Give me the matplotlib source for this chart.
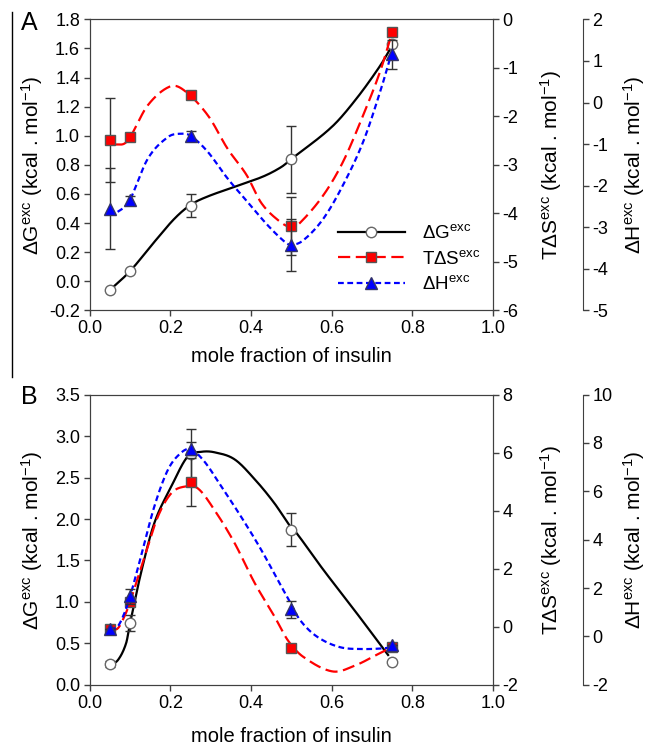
import numpy as np
import matplotlib.pyplot as plt
from matplotlib.lines import Line2D

plt.rcParams['font.family'] = ['Liberation Sans', 'DejaVu Sans']
plt.rcParams['mathtext.fontset'] = 'custom'
plt.rcParams['mathtext.rm'] = 'Liberation Sans'
plt.rcParams['mathtext.it'] = 'Liberation Sans'
plt.rcParams['axes.unicode_minus'] = False

# mole fraction of insulin
x = [0.05, 0.1, 0.25, 0.5, 0.75]

# panel A points (each series in its own axis units)
a_dg = [-0.06, 0.07, 0.52, 0.84, 1.63]
a_dg_err = [0, 0, 0.08, 0.23, 0]
a_tds = [-2.49, -2.43, -1.56, -4.26, -0.27]
a_tds_err = [0.87, 0, 0, 0.6, 0]
a_dh = [-2.55, -2.34, -0.8, -3.43, 1.16]
a_dh_err = [0.98, 0.1, 0.12, 0.63, 0.35]

# panel A fitted curves
a_dg_cx = [0.05, 0.1, 0.16, 0.21, 0.25, 0.29, 0.36, 0.43, 0.475, 0.5, 0.6, 0.66, 0.72, 0.75]
a_dg_cy = [-0.06, 0.07, 0.27, 0.43, 0.525, 0.58, 0.65, 0.72, 0.785, 0.84, 1.06, 1.25, 1.48, 1.62]
a_tds_cx = [0.065, 0.085, 0.1, 0.144, 0.2, 0.235, 0.293, 0.342, 0.389, 0.425, 0.467, 0.5,
            0.521, 0.579, 0.628, 0.678, 0.72, 0.75]
a_tds_cy = [-2.58, -2.565, -2.43, -1.77, -1.38, -1.47, -1.98, -2.67, -3.21, -3.78, -4.14, -4.29,
            -4.2, -3.63, -2.94, -1.98, -1.08, -0.27]
a_dh_cx = [0.069, 0.086, 0.1, 0.144, 0.194, 0.226, 0.25, 0.293, 0.342, 0.392, 0.442, 0.484, 0.5,
           0.529, 0.579, 0.628, 0.678, 0.72, 0.75]
a_dh_cy = [-2.63, -2.515, -2.34, -1.35, -0.83, -0.75, -0.8, -1.19, -1.83, -2.40, -2.96, -3.355,
           -3.425, -3.32, -2.80, -1.99, -0.95, 0.25, 1.23]

# panel B points
b_dg = [0.25, 0.745, 2.78, 1.87, 0.28]
b_dg_err = [0.04, 0.1, 0.3, 0.2, 0]
b_tds = [-0.06, 0.86, 5.0, -0.74, -0.69]
b_tds_err = [0, 0, 0.83, 0, 0]
b_dh = [0.30, 1.67, 7.77, 1.12, -0.35]
b_dh_err = [0, 0.31, 0.27, 0.34, 0]

# panel B fitted curves
b_dg_cx = [0.05, 0.07, 0.09, 0.1, 0.127, 0.16, 0.202, 0.243, 0.276, 0.309, 0.359, 0.409,
           0.458, 0.5, 0.513, 0.579, 0.662, 0.74]
b_dg_cy = [0.24, 0.30, 0.50, 0.745, 1.35, 1.95, 2.39, 2.755, 2.81, 2.805, 2.72, 2.48,
           2.19, 1.89, 1.83, 1.39, 0.865, 0.36]
b_tds_cx = [0.05, 0.069, 0.086, 0.1, 0.136, 0.169, 0.202, 0.235, 0.268, 0.309, 0.359, 0.409,
            0.458, 0.491, 0.529, 0.603, 0.662, 0.711, 0.744]
b_tds_cy = [-0.06, -0.06, 0.36, 0.86, 2.43, 3.80, 4.60, 4.83, 4.77, 4.03, 2.89, 1.51,
            0.36, -0.46, -1.03, -1.54, -1.31, -0.97, -0.74]
b_dh_cx = [0.05, 0.069, 0.086, 0.1, 0.127, 0.16, 0.194, 0.226, 0.25, 0.284, 0.326, 0.375,
           0.425, 0.475, 0.496, 0.521, 0.563, 0.62, 0.678, 0.736, 0.75]
b_dh_cy = [0.30, 0.41, 0.97, 1.66, 3.31, 5.37, 6.90, 7.59, 7.74, 7.24, 6.21, 4.96,
           3.59, 2.07, 1.45, 0.69, 0.0, -0.44, -0.52, -0.48, -0.42]


def smooth(xs, ys, n=25):
    # cubic Hermite (Catmull-Rom style) through the curve nodes
    xs = np.asarray(xs, float)
    ys = np.asarray(ys, float)
    k = len(xs)
    m = np.zeros(k)
    m[0] = (ys[1] - ys[0]) / (xs[1] - xs[0])
    m[-1] = (ys[-1] - ys[-2]) / (xs[-1] - xs[-2])
    for i in range(1, k - 1):
        m[i] = (ys[i + 1] - ys[i - 1]) / (xs[i + 1] - xs[i - 1])
    out_x, out_y = [], []
    for i in range(k - 1):
        h = xs[i + 1] - xs[i]
        t = np.linspace(0, 1, n, endpoint=(i == k - 2))
        h00 = 2 * t ** 3 - 3 * t ** 2 + 1
        h10 = t ** 3 - 2 * t ** 2 + t
        h01 = -2 * t ** 3 + 3 * t ** 2
        h11 = t ** 3 - t ** 2
        out_x.append(xs[i] + t * h)
        out_y.append(h00 * ys[i] + h10 * h * m[i] + h01 * ys[i + 1] + h11 * h * m[i + 1])
    return np.concatenate(out_x), np.concatenate(out_y)


spine_col = '#404040'
red_dash = (5.5, 2.5)
blue_dash = (2.6, 1.6)
lab_g = r'$\Delta$G$^{\mathrm{exc}}$ (kcal . mol$^{\mathrm{-1}}$)'
lab_s = r'T$\Delta$S$^{\mathrm{exc}}$ (kcal . mol$^{\mathrm{-1}}$)'
lab_h = r'$\Delta$H$^{\mathrm{exc}}$ (kcal . mol$^{\mathrm{-1}}$)'

fig = plt.figure(figsize=(6.46, 7.46), dpi=100)


def panel(rect, letter, pts, curves, glim, gticks, slim, sticks, hlim, hticks,
          legend, xlab_y, letter_y):
    dg, dg_err, tds, tds_err, dh, dh_err = pts
    (gcx, gcy), (scx, scy), (hcx, hcy) = curves
    ax = fig.add_axes(rect)
    ax2 = ax.twinx()
    ax3 = ax.twinx()
    ax3.spines['right'].set_position(('axes', 1.223))
    for a in (ax, ax2, ax3):
        for s in a.spines.values():
            s.set_color(spine_col)
        a.tick_params(direction='out', length=4, width=1, color=spine_col,
                      labelsize=13, pad=3)
    for s in ('top', 'bottom', 'left'):
        ax3.spines[s].set_visible(False)

    gx, gy = smooth(gcx, gcy)
    ax.plot(gx, gy, color='black', lw=1.6)
    ax.errorbar(x, dg, yerr=dg_err, fmt='none', ecolor='#333333', elinewidth=1, capsize=3.3)
    ax.plot(x, dg, 'o', ms=7.5, mfc='white', mec='#666666', mew=1)

    sx, sy = smooth(scx, scy)
    ax2.plot(sx, sy, color='red', lw=1.6, dashes=red_dash)
    ax2.errorbar(x, tds, yerr=tds_err, fmt='none', ecolor='#333333', elinewidth=1, capsize=3.3)
    ax2.plot(x, tds, 's', ms=7.5, mfc='red', mec='#555555', mew=1)

    hx, hy = smooth(hcx, hcy)
    ax3.plot(hx, hy, color='blue', lw=1.6, dashes=blue_dash)
    ax3.errorbar(x, dh, yerr=dh_err, fmt='none', ecolor='#333333', elinewidth=1, capsize=3.3)
    ax3.plot(x, dh, '^', ms=8, mfc='blue', mec='#333366', mew=1)

    ax.set_xlim(0, 1)
    ax.set_xticks(np.arange(0, 1.01, 0.2))
    ax.set_xticklabels([f'{v:.1f}' for v in np.arange(0, 1.01, 0.2)])
    ax.set_ylim(*glim)
    ax.set_yticks(gticks)
    ax.set_yticklabels([f'{v:.1f}' for v in gticks])
    ax2.set_ylim(*slim)
    ax2.set_yticks(sticks)
    ax3.set_ylim(*hlim)
    ax3.set_yticks(hticks)

    ax.set_xlabel('mole fraction of insulin', fontsize=14.5)
    ax.xaxis.set_label_coords(0.5, xlab_y)
    ax.set_ylabel(lab_g, fontsize=15)
    ax.yaxis.set_label_coords(-0.111, 0.5)
    ax2.set_ylabel(lab_s, fontsize=15)
    ax2.yaxis.set_label_coords(1.111, 0.5)
    ax3.set_ylabel(lab_h, fontsize=15)
    ax3.yaxis.set_label_coords(1.318, 0.5)

    ax.text(-0.149, letter_y, letter, transform=ax.transAxes, fontsize=18,
            ha='center', va='center')

    if legend:
        handles = [
            Line2D([], [], color='black', lw=1.6, marker='o', ms=7.5,
                   mfc='white', mec='#666666'),
            Line2D([], [], color='red', lw=1.6, dashes=red_dash, marker='s',
                   ms=7.5, mfc='red', mec='#555555'),
            Line2D([], [], color='blue', lw=1.6, dashes=blue_dash, marker='^',
                   ms=8, mfc='blue', mec='#333366'),
        ]
        labels = [r'$\Delta$G$^{\mathrm{exc}}$', r'T$\Delta$S$^{\mathrm{exc}}$',
                  r'$\Delta$H$^{\mathrm{exc}}$']
        ax3.legend(handles, labels, loc='center left', bbox_to_anchor=(0.615, 0.177),
                   frameon=False, fontsize=13.5, handlelength=3.6,
                   handletextpad=0.9, labelspacing=0.4, borderaxespad=0, borderpad=0)


panel([0.139, 0.584, 0.624, 0.390], 'A',
      (a_dg, a_dg_err, a_tds, a_tds_err, a_dh, a_dh_err),
      ((a_dg_cx, a_dg_cy), (a_tds_cx, a_tds_cy), (a_dh_cx, a_dh_cy)),
      (-0.2, 1.8), np.arange(-0.2, 1.81, 0.2), (-6, 0), range(-6, 1),
      (-5, 2), range(-5, 3), True, -0.125, 0.986)
panel([0.139, 0.082, 0.624, 0.389], 'B',
      (b_dg, b_dg_err, b_tds, b_tds_err, b_dh, b_dh_err),
      ((b_dg_cx, b_dg_cy), (b_tds_cx, b_tds_cy), (b_dh_cx, b_dh_cy)),
      (0, 3.5), np.arange(0, 3.51, 0.5), (-2, 8), range(-2, 9, 2),
      (-2, 10), range(-2, 11, 2), False, -0.145, 0.993)

# thin frame line at the left of panel A
fig.add_artist(Line2D([12 / 646, 12 / 646], [1 - 12 / 746, 1 - 377 / 746],
                      transform=fig.transFigure, color='black', lw=1))

fig.savefig('out.png', dpi=100)
